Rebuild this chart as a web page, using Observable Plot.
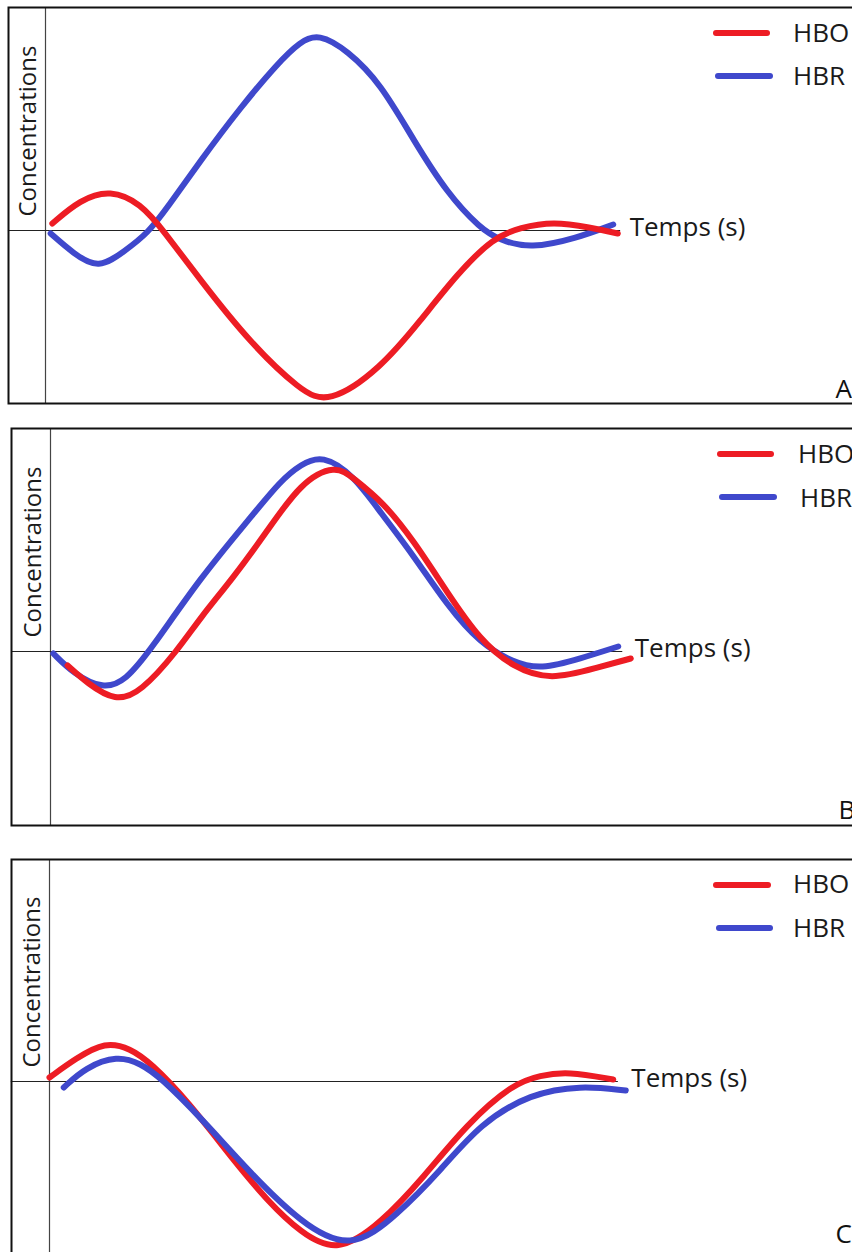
<!DOCTYPE html>
<html>
<head>
<meta charset="utf-8">
<script src="https://cdn.jsdelivr.net/npm/d3@7"></script>
<script src="https://cdn.jsdelivr.net/npm/@observablehq/plot@0.6"></script>
<style>
  html, body { margin: 0; padding: 0; background: #fff; overflow: hidden; }
  #root { position: relative; width: 852px; height: 1252px; overflow: hidden; background: #fff; }
  .panel { position: absolute; left: 0; }
  .panel svg { max-width: none !important; display: block; }
  .swatch { position: absolute; height: 6px; border-radius: 3px; }
  .legtext { position: absolute; font-family: "Open Sans", sans-serif; font-size: 26px; line-height: 26px; color: #1a1a1a; white-space: nowrap; }
</style>
</head>
<body>
<div id="root"></div>
<script>
// ---- Data (time in s, concentration in arbitrary units) ----
const seriesNames = ["HBO", "HBR"];
const seriesColors = ["#ED1C24", "#3F48CC"];
const panelLetters = ["A", "B", "C"];
const xLabel = "Temps (s)";
const yLabel = "Concentrations";

// Panel A
const timeA_HBO = [1.2, 6.1, 11.4, 16.7, 20.7, 27.2, 36.0, 44.7, 49.6, 58.8, 65.8, 72.3, 78.6, 83.3, 89.1, 95.6, 100.4];
const concA_HBO = [0.035, 0.155, 0.205, 0.135, 0, -0.25, -0.565, -0.8, -0.87, -0.69, -0.45, -0.215, -0.035, 0.015, 0.045, 0.015, -0.015];
const timeA_HBR = [0.9, 4.9, 9.3, 14.0, 17.9, 21.4, 27.2, 34.2, 40.7, 44.7, 47.9, 53.0, 58.8, 64.6, 70.5, 76.3, 79.8, 85.1, 93.0, 99.6];
const concA_HBR = [-0.015, -0.115, -0.195, -0.1, -0.015, 0.115, 0.35, 0.615, 0.835, 0.945, 0.985, 0.9, 0.735, 0.45, 0.185, 0.01, -0.05, -0.09, -0.04, 0.03];

// Panel B
const timeB_HBO = [3.0, 6.5, 11.4, 15.8, 22.3, 26.3, 32.1, 38.1, 43.9, 50.0, 53.2, 58.4, 63.7, 69.6, 75.4, 81.2, 87.7, 96.0, 101.8];
const concB_HBO = [-0.07, -0.16, -0.25, -0.205, 0.005, 0.17, 0.37, 0.605, 0.845, 0.935, 0.865, 0.745, 0.555, 0.295, 0.055, -0.08, -0.145, -0.08, -0.035];
const timeB_HBR = [0.5, 4.0, 9.3, 13.2, 17.5, 26.3, 35.1, 40.4, 43.9, 47.7, 53.2, 57.9, 63.7, 69.6, 75.4, 81.2, 86.0, 93.0, 99.6];
const concB_HBR = [-0.01, -0.11, -0.19, -0.145, 0.005, 0.37, 0.67, 0.855, 0.935, 0.985, 0.88, 0.695, 0.48, 0.23, 0.04, -0.055, -0.09, -0.035, 0.025];

// Panel C
const timeC_HBO = [0, 4.6, 9.8, 14.2, 17.7, 24.2, 32.3, 38.2, 44.0, 50.5, 58.1, 65.6, 73.3, 81.4, 86.1, 90.9, 98.9];
const concC_HBO = [0.02, 0.115, 0.2, 0.165, 0.095, -0.095, -0.395, -0.595, -0.755, -0.86, -0.71, -0.48, -0.21, -0.01, 0.03, 0.05, 0.01];
const timeC_HBR = [2.5, 6.3, 11.9, 16.0, 19.5, 26.5, 35.3, 44.0, 52.8, 61.1, 68.6, 75.6, 84.4, 93.2, 101.1];
const concC_HBR = [-0.03, 0.07, 0.13, 0.09, 0.02, -0.18, -0.46, -0.705, -0.85, -0.665, -0.445, -0.21, -0.06, -0.02, -0.045];

// ---- Layout (pixels) ----
const layout = {
  A: {top: 0,   height: 415, boxLeft: 8,  boxTop: 7,  boxBottom: 403, axisX: 45, zeroY: 230, zeroStart: -6.5, zeroEnd: 100.9, tempsDx: 9,
      drawOrder: ["HBR", "HBO"], letterDx: 827, letterDy: -6,
      leg: [{sx: 713, sy: 30, w: 57, tx: 793, ty: 19}, {sx: 715, sy: 73, w: 58, tx: 793, ty: 62}]},
  B: {top: 415, height: 430, boxLeft: 11, boxTop: 13, boxBottom: 410, axisX: 50, zeroY: 236, zeroStart: -6.8, zeroEnd: 100.4, tempsDx: 12,
      drawOrder: ["HBR", "HBO"], letterDx: 827, letterDy: -7,
      leg: [{sx: 717, sy: 36, w: 57, tx: 798, ty: 25}, {sx: 719, sy: 79, w: 58, tx: 800, ty: 69}]},
  C: {top: 845, height: 420, boxLeft: 11, boxTop: 14, boxBottom: 415, axisX: 49, zeroY: 236, zeroStart: -6.7, zeroEnd: 99.8, tempsDx: 13,
      drawOrder: ["HBO", "HBR"], letterDx: 824, letterDy: -18,
      leg: [{sx: 713, sy: 37, w: 58, tx: 793, ty: 25}, {sx: 716, sy: 80, w: 57, tx: 793, ty: 69}]}
};

const panelSeries = {
  A: {HBO: [timeA_HBO, concA_HBO], HBR: [timeA_HBR, concA_HBR]},
  B: {HBO: [timeB_HBO, concB_HBO], HBR: [timeB_HBR, concB_HBR]},
  C: {HBO: [timeC_HBO, concC_HBO], HBR: [timeC_HBR, concC_HBR]}
};

const root = document.getElementById("root");
const W = 880;

for (const p of panelLetters) {
  const L = layout[p];
  const rows = L.drawOrder.flatMap(name => {
    const [ts, cs] = panelSeries[p][name];
    return ts.map((t, i) => ({series: name, t, c: cs[i]}));
  });

  const chart = Plot.plot({
    width: W,
    height: L.height,
    marginLeft: L.boxLeft,
    marginTop: L.boxTop,
    marginBottom: L.height - L.boxBottom,
    marginRight: 15,
    style: {fontFamily: "'Open Sans', sans-serif", background: "transparent", color: "#1a1a1a"},
    x: {domain: [0, 100], range: [L.axisX, L.axisX + 570], axis: null},
    y: {domain: [-1, 1], range: [L.zeroY + 200, L.zeroY - 200], axis: null},
    color: {domain: seriesNames, range: seriesColors},
    marks: [
      Plot.ruleX([0], {stroke: "#444", strokeWidth: 1.2}),
      Plot.ruleY([0], {x1: L.zeroStart, x2: L.zeroEnd, stroke: "#222", strokeWidth: 1}),
      Plot.line(rows, {x: "t", y: "c", z: "series", stroke: "series", strokeWidth: 6,
        curve: "basis", strokeLinecap: "round", strokeLinejoin: "round"}),
      Plot.text([xLabel], {x: L.zeroEnd, y: 0, text: d => d, textAnchor: "start", lineAnchor: "middle",
        dx: L.tempsDx, dy: -3, fontSize: 26, fill: "#1a1a1a"}),
      Plot.text([yLabel], {x: 0, y: 0, text: d => d, rotate: -90, textAnchor: "start", lineAnchor: "middle",
        dx: -17, dy: -14, fontSize: 24, fill: "#1a1a1a"}),
      Plot.text([p], {frameAnchor: "bottom-left", text: d => d, textAnchor: "start", lineAnchor: "bottom",
        dx: L.letterDx, dy: L.letterDy, fontSize: 26, fill: "#111"}),
      Plot.frame({stroke: "#111", strokeWidth: 2})
    ]
  });

  const div = document.createElement("div");
  div.className = "panel";
  div.style.top = L.top + "px";
  div.appendChild(chart);

  seriesNames.forEach((name, i) => {
    const g = L.leg[i];
    const sw = document.createElement("div");
    sw.className = "swatch";
    sw.style.left = g.sx + "px";
    sw.style.top = g.sy + "px";
    sw.style.width = g.w + "px";
    sw.style.background = seriesColors[i];
    div.appendChild(sw);
    const tx = document.createElement("div");
    tx.className = "legtext";
    tx.style.left = g.tx + "px";
    tx.style.top = g.ty + "px";
    tx.textContent = name;
    div.appendChild(tx);
  });

  root.appendChild(div);
}
</script>
</body>
</html>
